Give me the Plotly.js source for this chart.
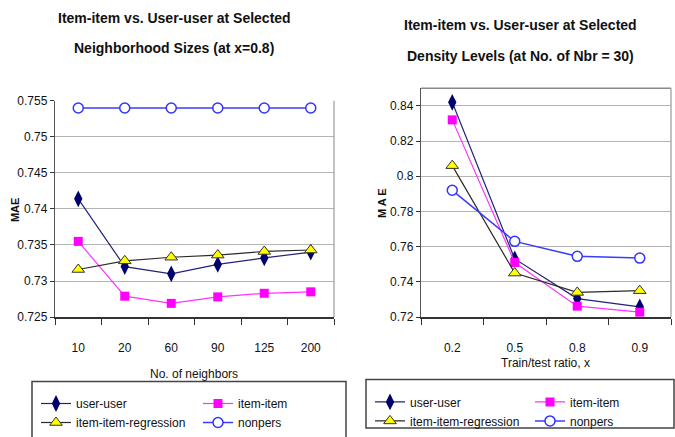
<!DOCTYPE html>
<html>
<head>
<meta charset="utf-8">
<script src="https://cdn.plot.ly/plotly-3.0.1.min.js"></script>
<style>
  html, body { margin: 0; padding: 0; background: #fff; }
  #chart { width: 675px; height: 437px; }
</style>
</head>
<body>
<div id="chart"></div>
<script>
// Neighborhood-size comparison (x = 0.8)
const nbrSizes = ['10', '20', '60', '90', '125', '200'];
const nbrUserUser = [0.7414, 0.7320, 0.7310, 0.7323, 0.7332, 0.7340];
const nbrItemItem = [0.7355, 0.7279, 0.7269, 0.7278, 0.7283, 0.7285];
const nbrItemRegression = [0.7316, 0.7328, 0.7333, 0.7336, 0.7341, 0.7343];
const nbrNonpers = [0.7540, 0.7540, 0.7540, 0.7540, 0.7540, 0.7540];

// Density comparison (30 neighbors)
const trainRatios = ['0.2', '0.5', '0.8', '0.9'];
const denUserUser = [0.842, 0.753, 0.7305, 0.7258];
const denItemItem = [0.832, 0.751, 0.7262, 0.7228];
const denItemRegression = [0.806, 0.745, 0.7340, 0.7350];
const denNonpers = [0.792, 0.763, 0.7545, 0.7535];

const W = 675, H = 437;
const px = v => v / W;          // horizontal pixel -> paper
const py = v => 1 - v / H;      // vertical pixel (from top) -> paper

const sans = 'Liberation Sans, Arial, sans-serif';

const styles = {
  user: {
    name: 'user-user',
    mode: 'lines+markers',
    line: { color: '#22227a', width: 1.2 },
    marker: { symbol: 'diamond-tall', size: 12, color: '#00006e', line: { width: 0 } }
  },
  item: {
    name: 'item-item',
    mode: 'lines+markers',
    line: { color: '#ff33ff', width: 1.2 },
    marker: { symbol: 'square', size: 9, color: '#ff00ff', line: { width: 0 } }
  },
  reg: {
    name: 'item-item-regression',
    mode: 'lines+markers',
    line: { color: '#2a2a2a', width: 1.2 },
    marker: { symbol: 'triangle-up', size: 11, color: '#ffff00', line: { color: '#333333', width: 1 } }
  },
  nonpers: {
    name: 'nonpers',
    mode: 'lines+markers',
    line: { color: '#3b3bff', width: 1.5 },
    marker: { symbol: 'circle', size: 10, color: '#ffffff', line: { color: '#3333ff', width: 1.5 } }
  }
};

function series(style, x, y, xa, ya, legend) {
  return Object.assign({}, style, { x: x, y: y, xaxis: xa, yaxis: ya, legend: legend, cliponaxis: false });
}

const data = [
  series(styles.user, nbrSizes, nbrUserUser, 'x', 'y', 'legend'),
  series(styles.item, nbrSizes, nbrItemItem, 'x', 'y', 'legend2'),
  series(styles.reg, nbrSizes, nbrItemRegression, 'x', 'y', 'legend'),
  series(styles.nonpers, nbrSizes, nbrNonpers, 'x', 'y', 'legend2'),
  series(styles.user, trainRatios, denUserUser, 'x2', 'y2', 'legend3'),
  series(styles.item, trainRatios, denItemItem, 'x2', 'y2', 'legend4'),
  series(styles.reg, trainRatios, denItemRegression, 'x2', 'y2', 'legend3'),
  series(styles.nonpers, trainRatios, denNonpers, 'x2', 'y2', 'legend4')
];

const tickFont = { family: sans, size: 12, color: '#111' };

function xAxis(domain, anchor) {
  return {
    domain: domain, anchor: anchor, type: 'category',
    showgrid: false, zeroline: false,
    showline: true, linecolor: '#333', linewidth: 1.5,
    ticks: 'outside', tickson: 'boundaries', ticklen: 6, tickcolor: '#333', tickwidth: 1,
    tickfont: tickFont, ticklabelstandoff: 19, fixedrange: true
  };
}
function yAxis(domain, anchor, range, dtick) {
  return {
    domain: domain, anchor: anchor, range: range, dtick: dtick, tick0: 0,
    showgrid: true, gridcolor: '#b4b4b4', gridwidth: 1, zeroline: false,
    showline: true, linecolor: '#555', linewidth: 1.2,
    ticks: 'outside', ticklen: 4, tickcolor: '#333', tickwidth: 1,
    tickfont: tickFont, fixedrange: true
  };
}

const legendBase = {
  orientation: 'v', xanchor: 'left', yanchor: 'top',
  bgcolor: 'rgba(0,0,0,0)', borderwidth: 0,
  font: { family: sans, size: 12, color: '#111' },
  itemwidth: 30, tracegroupgap: 0
};

const layout = {
  width: W, height: H,
  margin: { l: 0, r: 0, t: 0, b: 0 },
  paper_bgcolor: '#fff', plot_bgcolor: '#fff',
  showlegend: true,
  xaxis: Object.assign(xAxis([px(55), px(334)], 'y'), { range: [-0.5, 5.5] }),
  yaxis: yAxis([1 - 320 / H, 1 - 101.7 / H], 'x', [0.725, 0.755], 0.005),
  xaxis2: Object.assign(xAxis([px(421), px(671)], 'y2'), { range: [-0.5, 3.5] }),
  yaxis2: yAxis([1 - 320 / H, 1 - 89 / H], 'x2', [0.72, 0.85], 0.02),
  legend: Object.assign({}, legendBase, { x: px(36), y: py(393) }),
  legend2: Object.assign({}, legendBase, { x: px(198), y: py(393) }),
  legend3: Object.assign({}, legendBase, { x: px(370), y: py(391) }),
  legend4: Object.assign({}, legendBase, { x: px(530), y: py(391) }),
  shapes: [
    // right edge of the left plot
    { type: 'line', xref: 'x domain', yref: 'y domain', x0: 1, x1: 1, y0: 0, y1: 1,
      line: { color: '#9a9a9a', width: 1.2 } },
    // top and right edges of the right plot
    { type: 'line', xref: 'x2 domain', yref: 'y2 domain', x0: 0, x1: 1, y0: 1, y1: 1,
      line: { color: '#8a8a8a', width: 1.5 } },
    { type: 'line', xref: 'x2 domain', yref: 'y2 domain', x0: 1, x1: 1, y0: 0, y1: 1,
      line: { color: '#9a9a9a', width: 1.2 } },
    // legend frames
    { type: 'rect', xref: 'paper', yref: 'paper', x0: px(32), x1: px(346), y0: py(442), y1: py(385),
      line: { color: '#444', width: 1.5 }, fillcolor: 'rgba(0,0,0,0)' },
    { type: 'rect', xref: 'paper', yref: 'paper', x0: px(366), x1: px(674), y0: py(432), y1: py(383),
      line: { color: '#444', width: 1.5 }, fillcolor: 'rgba(0,0,0,0)' }
  ],
  annotations: [
    { text: '<b>Item-item vs. User-user at Selected</b>', x: px(174), y: py(18) },
    { text: '<b>Neighborhood Sizes (at x=0.8)</b>', x: px(174), y: py(48) },
    { text: '<b>Item-item vs. User-user at Selected</b>', x: px(520), y: py(25) },
    { text: '<b>Density Levels (at No. of Nbr = 30)</b>', x: px(520), y: py(57) },
    { text: 'No. of neighbors', x: px(194), y: py(377), font: { family: sans, size: 12, color: '#111' } },
    { text: 'Train/test ratio, x', x: px(545), y: py(366), font: { family: sans, size: 12, color: '#111' } },
    { text: '<b>MAE</b>', x: px(15), y: py(212), textangle: -90,
      font: { family: sans, size: 11, color: '#111' } },
    { text: '<b>M A E</b>', x: px(382), y: py(205), textangle: -90,
      font: { family: sans, size: 11, color: '#111' } }
  ].map(a => Object.assign({
    xref: 'paper', yref: 'paper', xanchor: 'center', yanchor: 'middle', showarrow: false,
    font: { family: sans, size: 14, color: '#111' }
  }, a))
};

Plotly.newPlot('chart', data, layout, { displayModeBar: false, staticPlot: true });
</script>
</body>
</html>
